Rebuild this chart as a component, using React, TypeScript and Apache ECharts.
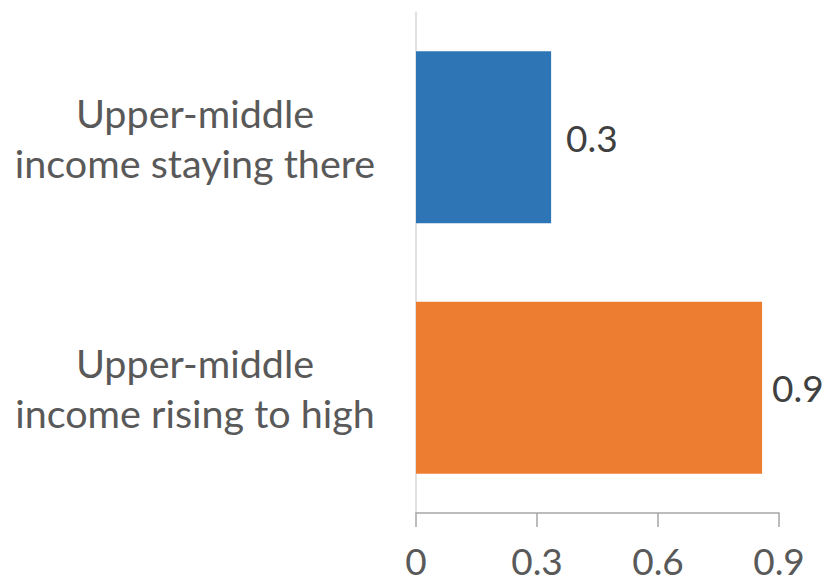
import React, { useEffect, useRef } from "react";
import * as echarts from "echarts";

// Income transition groups, listed top to bottom
const categories = [
  "Upper-middle\nincome staying there",
  "Upper-middle\nincome rising to high",
];
const values = [0.335, 0.858];
const barColors = ["#2E75B6", "#ED7D31"];
const labelGaps = [15, 10];

// Value axis
const axisMin = 0;
const axisMax = 0.9;
const axisInterval = 0.3;

const FONT = "Lato";

export default function App() {
  const ref = useRef<HTMLDivElement>(null);

  useEffect(() => {
    if (!ref.current) return;
    const chart = echarts.init(ref.current, undefined, { renderer: "svg" });
    chart.setOption({
      animation: false,
      backgroundColor: "#ffffff",
      grid: { left: 416, right: 48, top: 12, bottom: 72, containLabel: false },
      xAxis: {
        type: "value",
        min: axisMin,
        max: axisMax,
        interval: axisInterval,
        splitLine: { show: false },
        axisLine: { show: true, lineStyle: { color: "#a6a6a6", width: 1.5 } },
        axisTick: { show: true, length: 14, lineStyle: { color: "#a6a6a6", width: 1.5 } },
        axisLabel: {
          color: "#595959",
          fontFamily: FONT,
          fontSize: 37,
          lineHeight: 30,
          margin: 32,
          formatter: (v: number) => (v === 0 ? "0" : v.toFixed(1)),
        },
      },
      yAxis: {
        type: "category",
        data: categories,
        inverse: true,
        axisLine: { show: true, lineStyle: { color: "#d9d9d9", width: 1.5 } },
        axisTick: { show: false },
        axisLabel: {
          color: "#595959",
          fontFamily: FONT,
          fontSize: 39.5,
          lineHeight: 50,
          align: "center",
          margin: 221,
        },
      },
      series: [
        {
          type: "bar",
          barWidth: 172,
          data: values.map((v, i) => ({
            value: v,
            itemStyle: { color: barColors[i] },
            label: { distance: labelGaps[i] },
          })),
          label: {
            show: true,
            position: "right",
            color: "#404040",
            fontFamily: FONT,
            fontSize: 37,
            formatter: (p: any) => Number(p.value).toFixed(1),
          },
        },
      ],
    });
    return () => chart.dispose();
  }, []);

  return (
    <div
      ref={ref}
      style={{ position: "fixed", left: 0, top: 0, width: 827, height: 585 }}
    />
  );
}
